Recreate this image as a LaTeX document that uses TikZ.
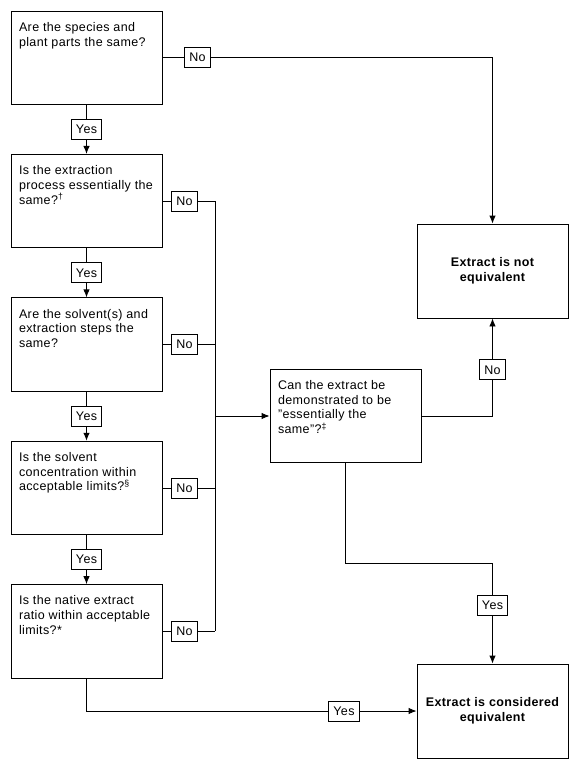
\documentclass[tikz,border=0pt]{standalone}
\usepackage{fontspec}
\setmainfont[LetterSpace=3]{Liberation Sans}
\usetikzlibrary{positioning,arrows.meta,calc}

\newcommand{\qtext}[1]{\parbox[c][71pt][t]{135pt}{\raggedright #1}}

\begin{document}
\begin{tikzpicture}[x=1pt,y=1pt,line width=.9pt,
        font = \fontsize{12.5}{14.7}\selectfont,
        QuestionStyle/.style = { rectangle, draw, inner xsep=8pt,
          inner ysep=11pt, minimum width=151pt, minimum height=93.5pt },
        ResultStyle/.style = { rectangle, draw, align=center,
          minimum width=151pt, minimum height=94pt,
          font = \fontsize{12.5}{14.7}\selectfont\bfseries },
        LabelStyle/.style = { rectangle, draw, fill=white,
          inner xsep=4.5pt, inner ysep=0pt, minimum height=20pt },
        EdgeStyle/.style = { -{Latex[length=8pt,width=6.5pt]} }
      ]
      \useasboundingbox (0,0) rectangle (577,-770);
      \node[QuestionStyle] (Q1) at (86.5,-57.75)
        {\qtext{Are the species and\\ plant parts the same?}};
      \node[QuestionStyle, below=49pt of Q1] (Q2)
        {\qtext{Is the extraction\\ process essentially the\\ same?\textsuperscript{†}}};
      \node[QuestionStyle, below=49pt of Q2] (Q3)
        {\qtext{Are the solvent(s) and\\ extraction steps the\\ same?}};
      \node[QuestionStyle, below=49pt of Q3] (Q4)
        {\qtext{Is the solvent\\ concentration within\\ acceptable limits?\textsuperscript{§}}};
      \node[QuestionStyle, below=49pt of Q4] (Q5)
        {\qtext{Is the native extract\\ ratio within acceptable\\ limits?*}};
      \node[QuestionStyle] (Demo) at (345.5,-416)
        {\qtext{Can the extract be\\ demonstrated to be\\ "essentially the\\ same"?\textsuperscript{‡}}};
      \node[ResultStyle] (NotEq) at (492.5,-271) {Extract is not\\ equivalent};
      \node[ResultStyle] (Eq) at (492.5,-711) {Extract is considered\\ equivalent};
      \coordinate (Bus) at (215,0);
      \coordinate (Turn) at ($(Demo.south)+(0,-100)$);

      \draw[EdgeStyle] (Q1.east) -| node[LabelStyle, pos=.053] (N1) {No} (NotEq.north);
      \draw[EdgeStyle] (Q1) -- node[LabelStyle] (Y1) {Yes} (Q2);
      \draw[EdgeStyle] (Q2) -- node[LabelStyle] (Y2) {Yes} (Q3);
      \draw[EdgeStyle] (Q3) -- node[LabelStyle] (Y3) {Yes} (Q4);
      \draw[EdgeStyle] (Q4) -- node[LabelStyle] (Y4) {Yes} (Q5);
      \draw (Q2.east) -- node[LabelStyle, pos=.42] (N2) {No} (Q2.east -| Bus)
        -- (Q5.east -| Bus);
      \draw (Q3.east) -- node[LabelStyle, pos=.42] (N3) {No} (Q3.east -| Bus);
      \draw (Q4.east) -- node[LabelStyle, pos=.42] (N4) {No} (Q4.east -| Bus);
      \draw (Q5.east) -- node[LabelStyle, pos=.42] (N5) {No} (Q5.east -| Bus);
      \draw[EdgeStyle] (Demo.west -| Bus) -- (Demo.west);
      \draw[EdgeStyle] (Demo.east) -| node[LabelStyle, pos=.737] (N6) {No} (NotEq.south);
      \draw[EdgeStyle] (Demo.south) -- (Turn) -| node[LabelStyle, pos=.71] (Y6) {Yes} (Eq.north);
      \draw[EdgeStyle] (Q5.south) |- node[LabelStyle, pos=.89] (Y5) {Yes} (Eq.west);
    \end{tikzpicture}
\end{document}
